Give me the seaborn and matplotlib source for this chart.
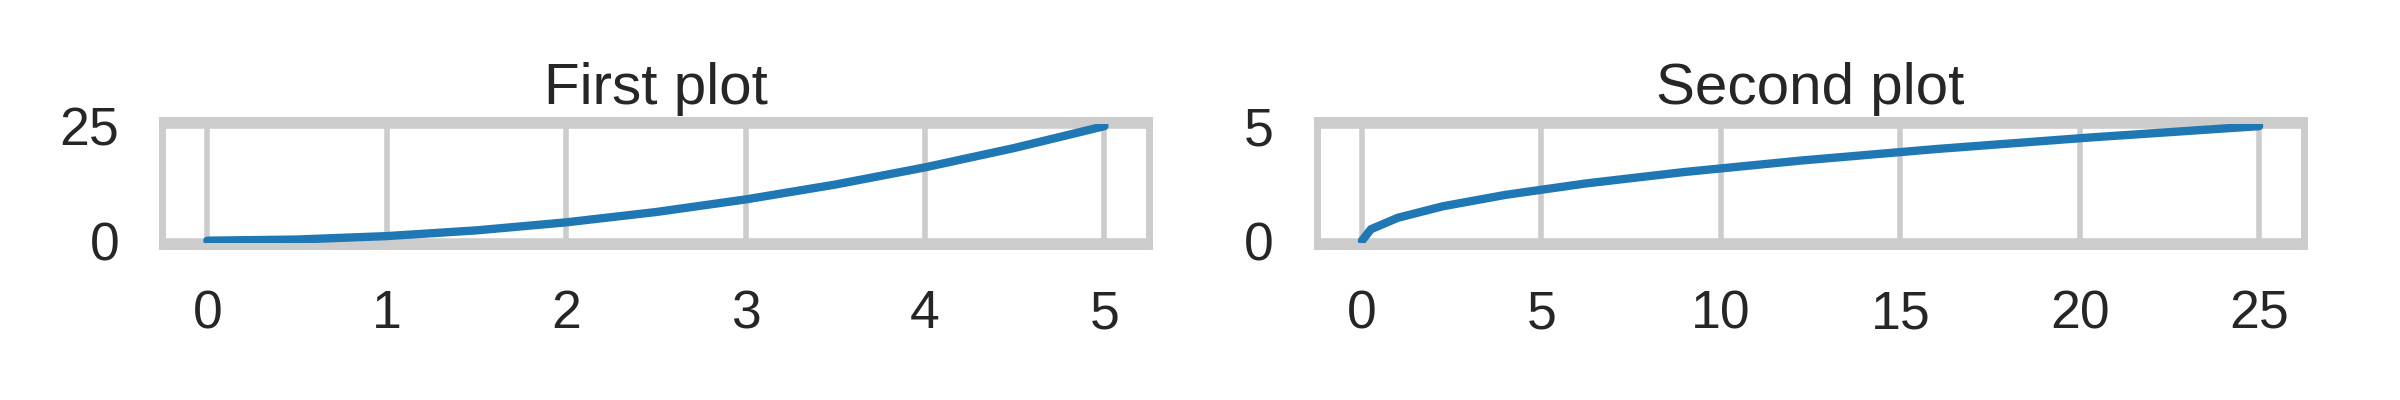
import matplotlib
matplotlib.use("Agg")
import matplotlib.pyplot as plt
import seaborn as sns

# values
first_x = [0, 0.5, 1, 1.5, 2, 2.5, 3, 3.5, 4, 4.5, 5]
first_y = [0, 0.25, 1, 2.25, 4, 6.25, 9, 12.25, 16, 20.25, 25]
second_x = [0, 0.25, 1, 2.25, 4, 6.25, 9, 12.25, 16, 20.25, 25]
second_y = [0, 0.5, 1, 1.5, 2, 2.5, 3, 3.5, 4, 4.5, 5]

titles = ["First plot", "Second plot"]
xticks = [[0, 1, 2, 3, 4, 5], [0, 5, 10, 15, 20, 25]]
yticks = [[0, 25], [0, 5]]
line_color = "#1f77b4"

sns.set_theme(style="whitegrid", context="poster")
plt.rcParams["font.family"] = ["Liberation Sans", "DejaVu Sans"]
plt.rcParams["xtick.labelsize"] = 19.25
plt.rcParams["ytick.labelsize"] = 19.25
plt.rcParams["axes.titlesize"] = 21

fig, axes = plt.subplots(1, 2, figsize=(12, 2), dpi=200)
data = [(first_x, first_y), (second_x, second_y)]
for i, ax in enumerate(axes):
    sns.lineplot(x=data[i][0], y=data[i][1], ax=ax, color=line_color)
    ax.set_title(titles[i])
    ax.set_xticks(xticks[i])
    ax.set_yticks(yticks[i])

plt.subplots_adjust(left=0.0677, right=0.96, bottom=0.384, top=0.699, wspace=0.17)
plt.savefig("out.png", dpi=200)
